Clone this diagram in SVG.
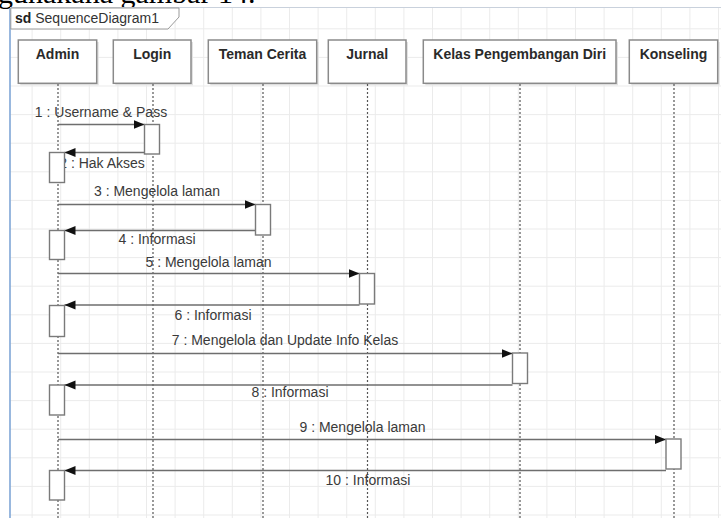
<svg xmlns="http://www.w3.org/2000/svg" width="721" height="518" viewBox="0 0 721 518">
  <style>
    .caption { font-family: "Liberation Serif", "Times New Roman", serif; font-size: 30px; fill: #000; }
    .frame-title { font-family: "Liberation Sans", Arial, sans-serif; font-size: 14px; fill: #333; }
    .frame-title .kw { font-weight: bold; fill: #222; }
    .head { fill: #fff; stroke: #8a8a8a; stroke-width: 1.5; }
    .shadow { fill: #e2e2e2; }
    .head-text { font-family: "Liberation Sans", Arial, sans-serif; font-size: 14px; font-weight: bold; fill: #2a2a2a; text-anchor: middle; }
    .life { stroke: #555; stroke-width: 1.2; stroke-dasharray: 2 2; fill: none; }
    .act { fill: #fff; stroke: #7a7a7a; stroke-width: 1.4; }
    .msg { stroke: #6e6e6e; stroke-width: 1.7; fill: none; marker-end: url(#arrow); }
    .label { font-family: "Liberation Sans", Arial, sans-serif; font-size: 14px; fill: #3a3a3a; text-anchor: middle; }
  </style>
  <defs>
    <pattern id="grid" patternUnits="userSpaceOnUse" x="3" y="28.3" width="28.6" height="28.6">
      <path d="M0.5 0V28.6M0 0.5H28.6" stroke="#ebebeb" stroke-width="1" fill="none"/>
    </pattern>
    <marker id="arrow" markerUnits="userSpaceOnUse" markerWidth="12" markerHeight="10" refX="11" refY="4.5" orient="auto">
      <path d="M0,0 L11,4.5 L0,9 Z" fill="#111"/>
    </marker>
  </defs>

  <!-- page background and caption line above the figure -->
  <rect x="0" y="0" width="721" height="518" fill="#fff"/>
  <text class="caption" x="-2" y="3">gunakana gambar 14.</text>

  <!-- diagram frame with grid -->
  <g id="frame">
    <rect x="10" y="8" width="711" height="510" fill="#fff"/>
    <rect x="10" y="8" width="711" height="510" fill="url(#grid)"/>
    <line x1="10" y1="7.5" x2="721" y2="7.5" stroke="#c9d1dc" stroke-width="1"/>
    <line x1="10" y1="8" x2="10" y2="518" stroke="#7fa6d6" stroke-width="1.6"/>
    <path d="M10.8 8 H179 V17 L168 29 H10.8 Z" fill="#fff" stroke="#9a9a9a" stroke-width="1"/>
    <text class="frame-title" x="15" y="23"><tspan class="kw">sd</tspan> SequenceDiagram1</text>
  </g>

  <!-- lifelines -->
  <g id="admin">
    <rect class="shadow" x="20.3" y="42" width="78.4" height="43.3"/>
    <rect class="head" x="18.3" y="40" width="78.4" height="43.3"/>
    <text class="head-text" x="57.5" y="59">Admin</text>
    <line class="life" x1="58" y1="84" x2="58" y2="518"/>
  </g>
  <g id="login">
    <rect class="shadow" x="115.3" y="42" width="77.7" height="43.3"/>
    <rect class="head" x="113.3" y="40" width="77.7" height="43.3"/>
    <text class="head-text" x="152.2" y="59">Login</text>
    <line class="life" x1="153" y1="84" x2="153" y2="518"/>
  </g>
  <g id="teman-cerita">
    <rect class="shadow" x="210.3" y="42" width="108.4" height="43.3"/>
    <rect class="head" x="208.3" y="40" width="108.4" height="43.3"/>
    <text class="head-text" x="262.5" y="59">Teman Cerita</text>
    <line class="life" x1="263" y1="84" x2="263" y2="518"/>
  </g>
  <g id="jurnal">
    <rect class="shadow" x="330.3" y="42" width="77.7" height="43.3"/>
    <rect class="head" x="328.3" y="40" width="77.7" height="43.3"/>
    <text class="head-text" x="367.2" y="59">Jurnal</text>
    <line class="life" x1="367.5" y1="84" x2="367.5" y2="518"/>
  </g>
  <g id="kelas-pengembangan-diri">
    <rect class="shadow" x="425.3" y="42" width="192.7" height="43.3"/>
    <rect class="head" x="423.3" y="40" width="192.7" height="43.3"/>
    <text class="head-text" x="519.7" y="59">Kelas Pengembangan Diri</text>
    <line class="life" x1="520" y1="84" x2="520" y2="518"/>
  </g>
  <g id="konseling">
    <rect class="shadow" x="631.3" y="42" width="88.4" height="43.3"/>
    <rect class="head" x="629.3" y="40" width="88.4" height="43.3"/>
    <text class="head-text" x="673.5" y="59">Konseling</text>
    <line class="life" x1="674" y1="84" x2="674" y2="518"/>
  </g>

  <!-- messages -->
  <g id="connectors">
    <line class="msg" x1="58" y1="124.5" x2="144.5" y2="124.5"/>
    <text class="label" x="101" y="117">1 : Username &amp; Pass</text>

    <line class="msg" x1="144.5" y1="152.5" x2="64.5" y2="152.5"/>
    <text class="label" x="102" y="167.5">2 : Hak Akses</text>

    <line class="msg" x1="58" y1="204.5" x2="255.5" y2="204.5"/>
    <text class="label" x="157" y="196">3 : Mengelola laman</text>

    <line class="msg" x1="255.5" y1="230.5" x2="64.5" y2="230.5"/>
    <text class="label" x="157" y="244">4 : Informasi</text>

    <line class="msg" x1="58" y1="273.5" x2="359.5" y2="273.5"/>
    <text class="label" x="208.5" y="266.5">5 : Mengelola laman</text>

    <line class="msg" x1="359.5" y1="305" x2="64.5" y2="305"/>
    <text class="label" x="213" y="320">6 : Informasi</text>

    <line class="msg" x1="58" y1="353.5" x2="512.5" y2="353.5"/>
    <text class="label" x="285" y="345">7 : Mengelola dan Update Info Kelas</text>

    <line class="msg" x1="512.5" y1="385" x2="64.5" y2="385"/>
    <text class="label" x="290" y="396.5">8 : Informasi</text>

    <line class="msg" x1="58" y1="439.5" x2="666" y2="439.5"/>
    <text class="label" x="362.5" y="431.5">9 : Mengelola laman</text>

    <line class="msg" x1="666" y1="470.5" x2="64.5" y2="470.5"/>
    <text class="label" x="368" y="485">10 : Informasi</text>
  </g>

  <!-- activation bars -->
  <g id="admin-activations">
    <rect class="act" x="49.5" y="152.5" width="15" height="30"/>
    <rect class="act" x="49.5" y="230.5" width="15" height="29"/>
    <rect class="act" x="49.5" y="305.5" width="15" height="31"/>
    <rect class="act" x="49.5" y="385" width="15" height="30"/>
    <rect class="act" x="49.5" y="470.5" width="15" height="29.5"/>
  </g>
  <g id="login-activation">
    <rect class="act" x="144.5" y="124.5" width="15" height="29.5"/>
  </g>
  <g id="teman-cerita-activation">
    <rect class="act" x="255.5" y="204.5" width="15" height="30.5"/>
  </g>
  <g id="jurnal-activation">
    <rect class="act" x="359.5" y="273.5" width="15" height="30.5"/>
  </g>
  <g id="kelas-activation">
    <rect class="act" x="512.5" y="353" width="15" height="30.5"/>
  </g>
  <g id="konseling-activation">
    <rect class="act" x="666" y="439" width="15" height="30"/>
  </g>
</svg>
